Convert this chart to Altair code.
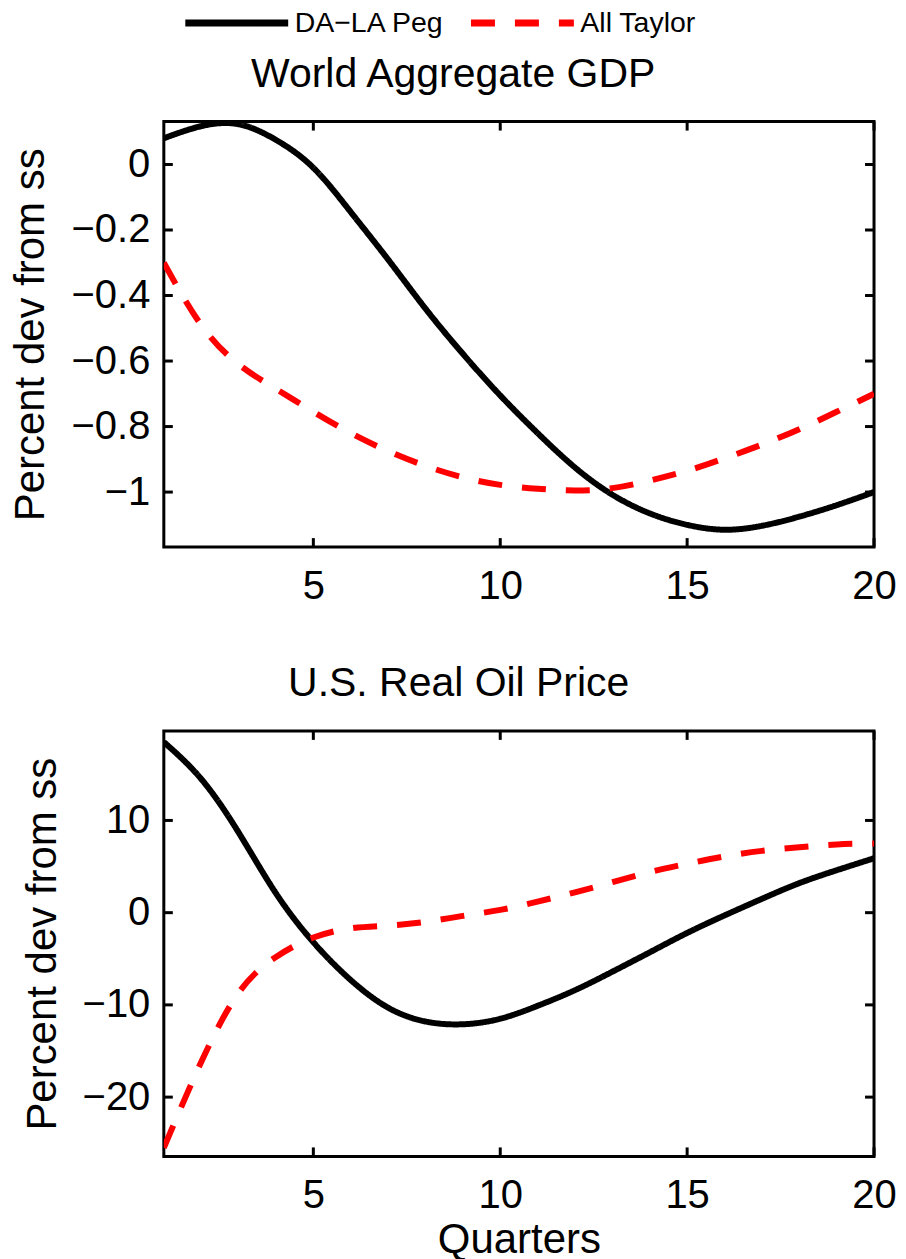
import altair as alt
import pandas as pd

FONT = "Liberation Sans"

quarters = list(range(1, 21))
series_names = ["DA\u2212LA Peg", "All Taylor"]
series_colors = ["black", "red"]

gdp_peg = [0.08, 0.117, 0.123, 0.075, -0.01, -0.145, -0.29, -0.44, -0.578, -0.705,
           -0.82, -0.925, -1.008, -1.065, -1.10, -1.115, -1.103, -1.075, -1.04, -1.0]
gdp_taylor = [-0.30, -0.49, -0.61, -0.685, -0.755, -0.82, -0.875, -0.92, -0.955, -0.978,
              -0.99, -0.995, -0.988, -0.965, -0.935, -0.897, -0.855, -0.808, -0.755, -0.70]
oil_peg = [18.5, 14.5, 8.7, 2.1, -3.2, -7.3, -10.3, -11.8, -12.1, -11.5,
           -10.1, -8.4, -6.4, -4.3, -2.2, -0.3, 1.5, 3.2, 4.6, 5.9]
oil_taylor = [-25.5, -16.2, -8.7, -4.8, -2.7, -1.7, -1.4, -1.0, -0.35, 0.3,
              1.2, 2.2, 3.3, 4.4, 5.3, 6.1, 6.7, 7.1, 7.4, 7.5]

x_ticks = [5, 10, 15, 20]
gdp_ticks = [-1, -0.8, -0.6, -0.4, -0.2, 0]
oil_ticks = [-20, -10, 0, 10]
x_domain = [1, 20]
gdp_domain = [-1.168, 0.131]
oil_domain = [-26.43, 19.71]

W, H = 711, 426
TICK = 9

legend = alt.Legend(
    title=None, orient="none", direction="horizontal",
    legendX=18, legendY=-154,
    symbolType="stroke", symbolSize=10609, symbolStrokeWidth=7,
    labelFontSize=28.5, labelFont=FONT, labelColor="black",
    labelOffset=3, columnPadding=12, padding=0,
)


def panel(peg, taylor, title, yticks, ydomain, yfmt, xtitle):
    df = pd.DataFrame({
        "quarter": quarters * 2,
        "value": peg + taylor,
        "series": [series_names[0]] * len(peg) + [series_names[1]] * len(taylor),
    })
    xscale = alt.Scale(domain=x_domain, nice=False, zero=False)
    yscale = alt.Scale(domain=ydomain, nice=False, zero=False)
    xaxis = alt.Axis(values=x_ticks, title=xtitle, labelFlush=False, labelPadding=19,
                     titlePadding=4)
    yaxis = alt.Axis(values=yticks, format=yfmt, title="Percent dev from ss",
                     labelPadding=14, titlePadding=18)
    lines = alt.Chart(df).mark_line(strokeWidth=6, clip=True, interpolate="natural").encode(
        x=alt.X("quarter:Q", scale=xscale, axis=xaxis),
        y=alt.Y("value:Q", scale=yscale, axis=yaxis),
        color=alt.Color("series:N", scale=alt.Scale(domain=series_names, range=series_colors),
                        legend=legend),
        strokeDash=alt.StrokeDash("series:N",
                                  scale=alt.Scale(domain=series_names, range=[[1, 0], [24, 20]]),
                                  legend=legend),
    )
    xt = pd.DataFrame({"t": x_ticks})
    yt = pd.DataFrame({"t": yticks})
    rule = dict(color="black", strokeWidth=3)
    bottom_t = alt.Chart(xt).mark_rule(**rule).encode(
        x=alt.X("t:Q", scale=xscale, axis=xaxis), y=alt.value(H - TICK), y2=alt.value(H))
    top_t = alt.Chart(xt).mark_rule(**rule).encode(
        x=alt.X("t:Q", scale=xscale, axis=xaxis), y=alt.value(0), y2=alt.value(TICK))
    left_t = alt.Chart(yt).mark_rule(**rule).encode(
        y=alt.Y("t:Q", scale=yscale, axis=yaxis), x=alt.value(0), x2=alt.value(TICK))
    right_t = alt.Chart(yt).mark_rule(**rule).encode(
        y=alt.Y("t:Q", scale=yscale, axis=yaxis), x=alt.value(W - TICK), x2=alt.value(W))
    return alt.layer(lines, bottom_t, top_t, left_t, right_t).properties(
        width=W, height=H, title=alt.TitleParams(title, anchor="middle", frame="bounds"))


top = panel(gdp_peg, gdp_taylor, "World Aggregate GDP", gdp_ticks, gdp_domain, "~g", None)
bottom = panel(oil_peg, oil_taylor, "U.S. Real Oil Price", oil_ticks, oil_domain, "d", "Quarters")

chart = alt.vconcat(top, bottom, spacing=54).properties(
    padding={"left": 0, "top": -41, "right": 0, "bottom": 0}
).configure_view(
    stroke="black", strokeWidth=3
).configure_axis(
    labelFont=FONT, labelFontSize=40, labelColor="black",
    titleFont=FONT, titleFontSize=42, titleFontWeight="normal", titleColor="black",
    tickSize=0, domain=False, grid=False,
).configure_title(
    font=FONT, fontSize=41, fontWeight="normal", color="black", offset=24,
)

chart.save("out.html", embed_options={"renderer": "svg", "actions": False})
